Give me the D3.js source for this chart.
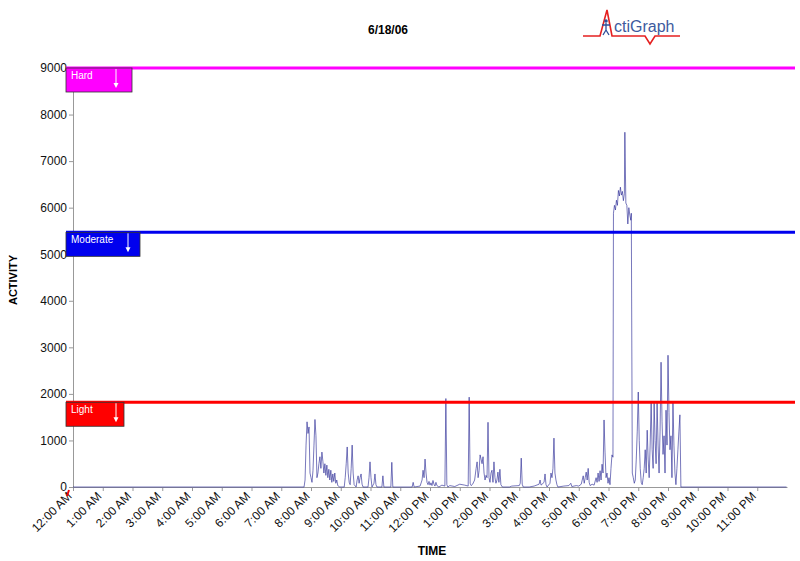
<!DOCTYPE html>
<html>
<head>
<meta charset="utf-8">
<script src="https://cdn.jsdelivr.net/npm/d3@7"></script>
<style>
  body { margin: 0; background: #fff; }
  svg { display: block; font-family: "Liberation Sans", Arial, sans-serif; }
</style>
</head>
<body>
<svg id="chart" width="800" height="561"></svg>
<script>
// ---- data ----
const title = "6/18/06";
const yTicks = [0, 1000, 2000, 3000, 4000, 5000, 6000, 7000, 8000, 9000];
const hourLabels = ["12:00 AM","1:00 AM","2:00 AM","3:00 AM","4:00 AM","5:00 AM","6:00 AM","7:00 AM","8:00 AM","9:00 AM","10:00 AM","11:00 AM",
  "12:00 PM","1:00 PM","2:00 PM","3:00 PM","4:00 PM","5:00 PM","6:00 PM","7:00 PM","8:00 PM","9:00 PM","10:00 PM","11:00 PM"];
const thresholdNames = ["Hard", "Moderate", "Light"];
const thresholdValues = [9000, 5470, 1820];
const thresholdColors = ["#ff00ff", "#0000ee", "#ff0000"];
const thresholdBoxWidths = [66, 74, 58];
const thresholdArrowInsets = [16, 12, 8];
// activity counts: [minute of day, counts]
const activity = [
[0,0],[466,0],
[468,150],[470,900],[472,1400],[474,1150],[476,1290],[478,300],[480,200],[482,100],[484,350],[486,900],[488,1450],[490,1100],[492,200],[494,300],[496,500],[498,650],[500,400],[502,750],[504,550],[506,300],[508,500],[510,250],[512,470],[514,200],[516,380],[518,150],[520,360],[522,100],[524,280],[526,120],[528,300],[530,80],[532,150],[534,30],[538,0],
[547,0],[549,200],[551,500],[553,860],[555,300],[557,100],[559,50],[561,400],[563,900],[565,300],[567,50],[571,0],[573,150],[575,240],[577,80],[579,200],[581,280],[583,60],[585,0],
[595,0],[597,200],[599,540],[601,200],[603,0],[607,80],[609,280],[611,50],[613,0],[623,0],[625,240],[627,0],[641,0],[643,530],[645,0],
[684,0],[686,100],[688,0],[700,20],[704,150],[706,360],[708,200],[710,600],[712,300],[714,100],[716,50],[718,120],[720,40],[722,90],[724,30],[726,140],[728,60],[730,20],[732,100],[734,30],[738,0],[744,40],[750,20],[752,1900],[754,50],[756,0],[760,30],[770,10],[780,60],[790,40],[797,20],[799,1930],[801,80],[803,30],[806,60],[810,150],[813,400],[815,540],[817,200],[819,350],[821,690],[823,600],[825,500],[827,650],[829,300],[831,150],[833,250],[835,200],[837,1390],[839,200],[841,100],[843,300],[845,360],[847,100],[849,540],[851,200],[853,80],[855,150],[857,320],[859,100],[861,380],[863,50],[866,0],
[880,0],[885,20],[900,30],[902,80],[904,620],[906,60],[908,0],[920,0],[930,20],[940,60],[942,150],[944,40],[950,100],[952,280],[954,50],[956,0],[962,80],[964,300],[966,200],[968,400],[970,1050],[972,300],[974,150],[976,50],[978,0],[990,20],[1000,30],[1004,80],[1006,10],[1015,30],[1020,20],[1025,60],[1029,240],[1031,80],[1033,200],[1035,320],[1037,150],[1039,400],[1041,100],[1043,30],[1047,60],[1051,40],[1055,200],[1057,100],[1059,300],[1061,120],[1063,350],[1065,150],[1067,490],[1069,300],[1071,1440],[1073,750],[1075,200],[1077,300],[1079,80],[1081,200],[1083,50],[1085,400],[1087,690],[1089,640],
[1090,5880],[1092,6050],[1094,5950],[1096,6160],[1098,6050],[1100,6370],[1102,6250],[1104,6440],[1106,6270],[1108,6350],[1110,6150],[1112,6300],[1113,7620],[1115,6100],[1117,6050],[1119,5650],[1121,6000],[1123,5840],[1125,5730],[1126,5880],[1128,300],
[1130,200],[1132,80],[1134,150],[1136,600],[1138,1200],[1140,2040],[1142,1000],[1144,400],[1146,100],[1148,50],[1150,200],[1152,400],[1154,800],[1156,300],[1158,1220],[1160,600],[1162,200],[1164,900],[1166,1820],[1168,800],[1170,400],[1172,1820],[1174,1000],[1176,500],[1178,1820],[1180,900],[1182,300],[1184,1200],[1186,2680],[1188,1400],[1190,700],[1192,1100],[1194,300],[1196,1650],[1198,900],[1200,2830],[1202,1600],[1204,800],[1206,1100],[1208,200],[1210,1820],[1212,900],[1214,300],[1216,50],[1218,400],[1220,800],[1222,1200],[1224,1550],[1226,0],[1439,0]
];

// ---- layout ----
const svg = d3.select("#chart");
const mLeft = 73, mRight = 787, mTop = 68, mBottom = 487;
const x = d3.scaleLinear().domain([0, 1440]).range([mLeft, mRight]);
const y = d3.scaleLinear().domain([0, 9000]).range([mBottom, mTop]);

// title
svg.append("text").attr("x", 388).attr("y", 34).attr("text-anchor", "middle")
  .attr("font-size", 12).attr("font-weight", "bold").text(title);

// logo
const logo = svg.append("g");
logo.append("path").attr("d", "M583,36 L600,36 L607,10 L612,36 L645,36 L650,44 L655,36 L680,36")
  .attr("fill", "none").attr("stroke", "#e52020").attr("stroke-width", 1.6);
logo.append("circle").attr("cx", 606).attr("cy", 21).attr("r", 1.8).attr("fill", "#2e4f9a");
logo.append("path").attr("d", "M606,23 L606,30 M602,25 L610,25 M606,30 L603,35 M606,30 L609,35")
  .attr("stroke", "#2e4f9a").attr("stroke-width", 1.3).attr("fill", "none");
logo.append("text").attr("x", 614).attr("y", 32).attr("font-size", 16).attr("fill", "#3d5a9e")
  .attr("font-family", "Liberation Sans, Arial, sans-serif").text("ctiGraph");

// y axis
const yAxis = d3.axisLeft(y).tickValues(yTicks).tickSize(4).tickSizeOuter(0).tickFormat(d3.format("d"));
const gy = svg.append("g").attr("transform", `translate(${mLeft},0)`).call(yAxis);
gy.select(".domain").attr("stroke", "#999");
gy.selectAll(".tick line").attr("stroke", "#999");
gy.selectAll(".tick text").attr("font-size", 12).attr("fill", "#111")
  .attr("font-family", "Liberation Sans, Arial, sans-serif").attr("x", -6);

// x axis
const xAxis = d3.axisBottom(x).tickValues(d3.range(0, 24).map(h => h * 60))
  .tickSize(4).tickSizeOuter(0).tickFormat((d, i) => hourLabels[i]);
const gx = svg.append("g").attr("transform", `translate(0,${mBottom})`).call(xAxis);
gx.select(".domain").attr("stroke", "#999");
gx.selectAll(".tick line").attr("stroke", "#999");
gx.selectAll(".tick text").attr("font-size", 12).attr("fill", "#111")
  .attr("font-family", "Liberation Sans, Arial, sans-serif")
  .attr("text-anchor", "end").attr("dy", null).attr("y", 0)
  .attr("transform", "translate(-1,10) rotate(-45)");

// small red marker near origin
svg.append("line").attr("x1", x(0) - 4).attr("y1", mBottom + 3).attr("x2", x(0) - 6).attr("y2", mBottom + 9)
  .attr("stroke", "#e00").attr("stroke-width", 2);

// activity line
const line = d3.line().x(d => x(d[0])).y(d => y(d[1]));
svg.append("path").datum(activity).attr("d", line)
  .attr("fill", "none").attr("stroke", "#2a2a96").attr("stroke-width", 0.8).attr("stroke-opacity", 0.8);

// threshold lines and boxes
thresholdValues.forEach((v, i) => {
  const yy = y(v);
  svg.append("line").attr("x1", mLeft - 7).attr("x2", 795).attr("y1", yy).attr("y2", yy)
    .attr("stroke", thresholdColors[i]).attr("stroke-width", 3);
  const bx = mLeft - 7, bw = thresholdBoxWidths[i], bh = 24;
  svg.append("rect").attr("x", bx).attr("y", yy).attr("width", bw).attr("height", bh)
    .attr("fill", thresholdColors[i]).attr("stroke", "#333").attr("stroke-width", 0.8);
  svg.append("text").attr("x", bx + 5).attr("y", yy + 11).attr("font-size", 10).attr("fill", "#fff")
    .text(thresholdNames[i]);
  const ax = bx + bw - thresholdArrowInsets[i];
  svg.append("line").attr("x1", ax).attr("x2", ax).attr("y1", yy + 1).attr("y2", yy + 18)
    .attr("stroke", "#fff").attr("stroke-width", 1);
  svg.append("path").attr("d", `M${ax - 2.5},${yy + 15} L${ax + 2.5},${yy + 15} L${ax},${yy + 20} Z`).attr("fill", "#fff");
});

// axis titles
svg.append("text").attr("transform", "translate(17,280) rotate(-90)").attr("text-anchor", "middle")
  .attr("font-size", 11).attr("font-weight", "bold").text("ACTIVITY");
svg.append("text").attr("x", 432).attr("y", 555).attr("text-anchor", "middle")
  .attr("font-size", 12).attr("font-weight", "bold").text("TIME");
</script>
</body>
</html>
